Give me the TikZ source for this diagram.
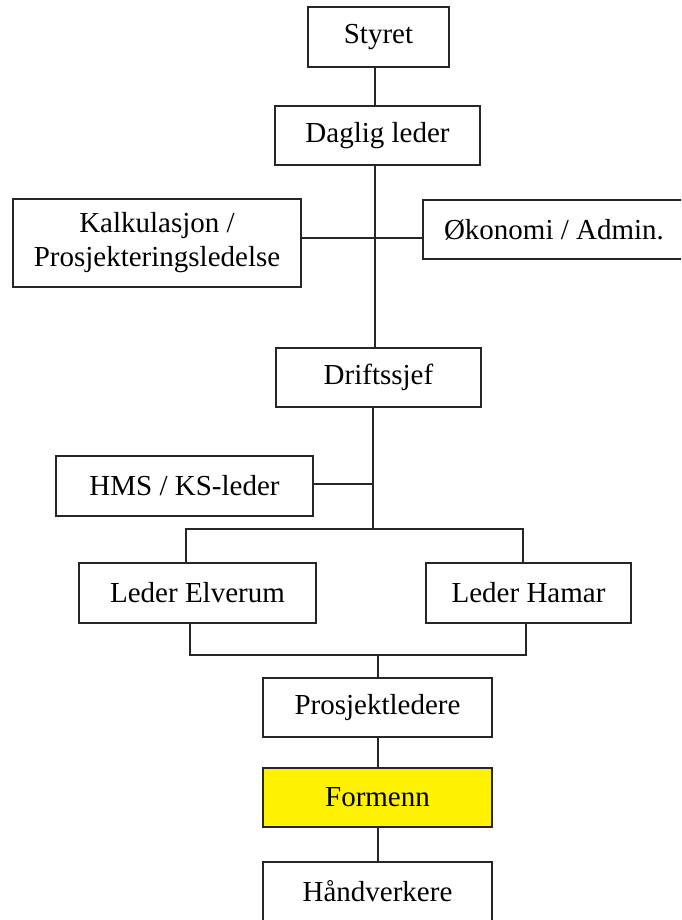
\documentclass[tikz,border=0pt]{standalone}
\usepackage{fontspec}
\setmainfont{Liberation Serif}
\usepackage{tikz}

\begin{document}
\begin{tikzpicture}[
  x=0.5pt, y=-0.5pt,
  unit/.style={draw=black!85, line width=0.8pt, inner sep=0pt, align=center, minimum height=29.5pt, font=\fontsize{14.5}{17}\selectfont},
  link/.style={draw=black!85, line width=0.75pt}
]
\useasboundingbox (0,0) rectangle (681,920);
\clip (0,0) rectangle (681,920);
% Top management
\node[unit, minimum width=70.5pt, minimum height=30pt] (styret) at (378.5, 37) {Styret};
\node[unit, minimum width=102.5pt] (daglig) at (377.5, 135.5) {Daglig leder};
% Staff functions
\node[unit, minimum width=144pt, minimum height=44pt] (kalk) at (157, 243) {Kalkulasjon /\\Prosjekteringsledelse};
\node[unit, minimum width=131pt] (okonomi) at (554, 229.5) {Økonomi / Admin.};
% Operations
\node[unit, minimum width=102.5pt] (drift) at (378.5, 377.5) {Driftssjef};
\node[unit, minimum width=128.5pt, minimum height=30pt] (hms) at (184.5, 486) {HMS / KS-leder};
\node[unit, minimum width=118.5pt, minimum height=30pt] (elverum) at (197.5, 593) {Leder Elverum};
\node[unit, minimum width=102.5pt, minimum height=30pt] (hamar) at (528.5, 593) {Leder Hamar};
% Projects
\node[unit, minimum width=114.5pt] (prosj) at (377.5, 707.5) {Prosjektledere};
\node[unit, minimum width=114.5pt, fill=yellow] (formenn) at (377.5, 797.5) {Formenn};
\node[unit, minimum width=114.5pt] (hand) at (377.5, 891.5) {Håndverkere};
% Junction points
\coordinate (stab) at (375, 238);
\coordinate (hmsj) at (373, 484);
\coordinate (split) at (373, 529);
\coordinate (merge) at (378, 655);
% Trunk
\draw[link] (styret.south -| stab) -- (daglig.north -| stab);
\draw[link] (daglig.south -| stab) -- (drift.north -| stab);
\draw[link] (kalk.east |- stab) -- (okonomi.west |- stab);
\draw[link] (drift.south -| hmsj) -- (split);
\draw[link] (hms.east |- hmsj) -- (hmsj);
% Branches
\draw[link] (elverum.north -| 186, 0) -- (186, 529) -- (523, 529) -- (hamar.north -| 523, 0);
\draw[link] (elverum.south -| 190, 0) -- (190, 655) -- (526, 655) -- (hamar.south -| 526, 0);
\draw[link] (merge) -- (prosj.north -| merge);
\draw[link] (prosj.south -| merge) -- (formenn.north -| merge);
\draw[link] (formenn.south -| merge) -- (hand.north -| merge);
\end{tikzpicture}
\end{document}
